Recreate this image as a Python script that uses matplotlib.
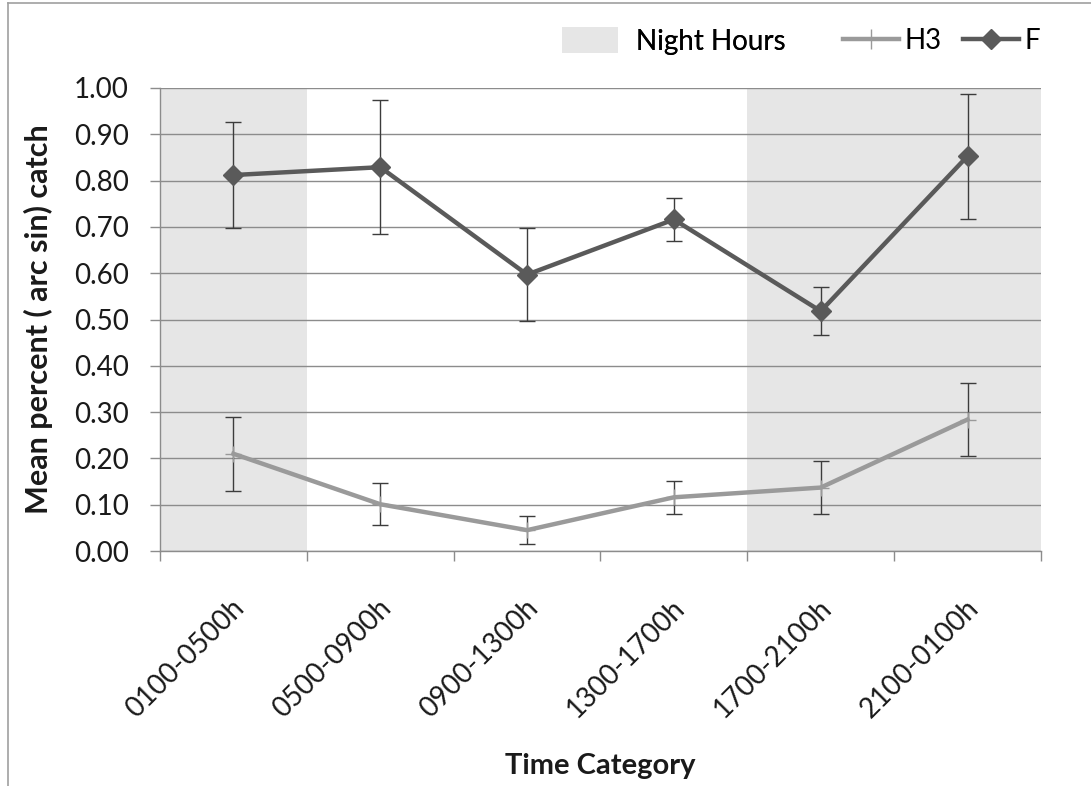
import matplotlib
matplotlib.use("Agg")
import matplotlib.pyplot as plt
import matplotlib.transforms as mtransforms
from matplotlib.patches import Patch
from matplotlib.lines import Line2D
import numpy as np

categories = ["0100-0500h", "0500-0900h", "0900-1300h", "1300-1700h", "1700-2100h", "2100-0100h"]
night = [True, False, False, False, True, True]
f_mean = [0.812, 0.829, 0.597, 0.716, 0.518, 0.853]
f_err = [0.114, 0.145, 0.101, 0.047, 0.052, 0.135]
h3_mean = [0.210, 0.101, 0.045, 0.116, 0.137, 0.284]
h3_err = [0.080, 0.045, 0.030, 0.036, 0.058, 0.079]
yticks = [0.0, 0.1, 0.2, 0.3, 0.4, 0.5, 0.6, 0.7, 0.8, 0.9, 1.0]

plt.rcParams['font.family'] = ['Lato', 'DejaVu Sans']

W, H = 1091, 786
fig = plt.figure(figsize=(W / 100, H / 100), dpi=100)
ax = fig.add_axes([160 / W, 1 - 551 / H, 881 / W, 463 / H])

x = np.arange(len(categories))
night_col = '#e6e6e6'
for i, n in enumerate(night):
    if n:
        ax.axvspan(i - 0.5, i + 0.5, facecolor=night_col, edgecolor='none', zorder=0)

ax.set_xlim(-0.5, len(categories) - 0.5)
ax.set_ylim(0, 1.0)
ax.set_yticks(yticks)
ax.set_yticklabels([f"{v:.2f}" for v in yticks])
ax.yaxis.grid(True, color='#8c8c8c', lw=1.0, zorder=1)
ax.set_axisbelow(True)

f_col = '#5a5a5a'
h3_col = '#9a9a9a'
err_col = '#3c3c3c'

ax.errorbar(x, h3_mean, yerr=h3_err, fmt='none', ecolor=err_col, elinewidth=1.0,
            capsize=6, capthick=1.0, zorder=3)
ax.plot(x, h3_mean, color=h3_col, lw=3.2, marker='+', ms=12, mew=1.0, zorder=4)
ax.errorbar(x, f_mean, yerr=f_err, fmt='none', ecolor=err_col, elinewidth=1.0,
            capsize=6, capthick=1.0, zorder=3)
ax.plot(x, f_mean, color=f_col, lw=3.2, marker='D', ms=10, zorder=4)

for s in ['top', 'right']:
    ax.spines[s].set_visible(False)
for s in ['left', 'bottom']:
    ax.spines[s].set_color('#8c8c8c')
    ax.spines[s].set_linewidth(1.0)

ax.tick_params(axis='y', direction='out', length=7.5, width=1.0, color='#8c8c8c',
               labelsize=20, pad=15, labelcolor='#1a1a1a')
# boundaries as major ticks, categories as minor (labelled)
ax.set_xticks(np.arange(len(categories) + 1) - 0.5)
ax.set_xticklabels([])
ax.tick_params(axis='x', which='major', direction='out', length=7.5, width=1.0, color='#8c8c8c')
ax.set_xticks(x, minor=True)
ax.set_xticklabels(categories, minor=True, rotation=45, ha='right', va='center',
                   rotation_mode='anchor', fontsize=20, color='#1a1a1a')
ax.tick_params(axis='x', which='minor', length=0, pad=38)
offset = mtransforms.ScaledTranslation(0.07, 0, fig.dpi_scale_trans)
for lab in ax.get_xticklabels(minor=True):
    lab.set_transform(lab.get_transform() + offset)

ax.set_ylabel("Mean percent ( arc sin) catch", fontsize=22, fontweight='bold', color='#1a1a1a')
ax.yaxis.set_label_coords((53 - 160) / 881, 0.5)
ax.set_xlabel("Time Category", fontsize=21, fontweight='bold', color='#1a1a1a')
ax.xaxis.set_label_coords(0.5, -(753 - 551) / 463)

# legends
leg1 = fig.legend(handles=[Patch(facecolor=night_col, edgecolor='none', label='Night Hours')],
                  loc='center left', bbox_to_anchor=(562 / W, 1 - 41 / H), frameon=False,
                  fontsize=20, borderpad=0, borderaxespad=0, handlelength=2.0,
                  handleheight=1.05, handletextpad=0.66)
fig.add_artist(leg1)
handles = [Line2D([], [], color=h3_col, lw=3.2, marker='+', ms=14, mew=1.0, label='H3'),
           Line2D([], [], color=f_col, lw=3.2, marker='D', ms=10, label='F')]
fig.legend(handles=handles, loc='center left', bbox_to_anchor=(843 / W, 1 - 41 / H),
           frameon=False, fontsize=20, ncol=2, borderpad=0, borderaxespad=0,
           handlelength=2.0, handletextpad=0.2, columnspacing=0.8)

# outer frame lines
fig.add_artist(Line2D([8 / W, 8 / W], [0, 1 - 3 / H], transform=fig.transFigure,
                      color='#a0a0a0', lw=1.2))
fig.add_artist(Line2D([8 / W, 1], [1 - 3 / H, 1 - 3 / H], transform=fig.transFigure,
                      color='#a0a0a0', lw=1.2))

fig.savefig('out.png', dpi=100)
